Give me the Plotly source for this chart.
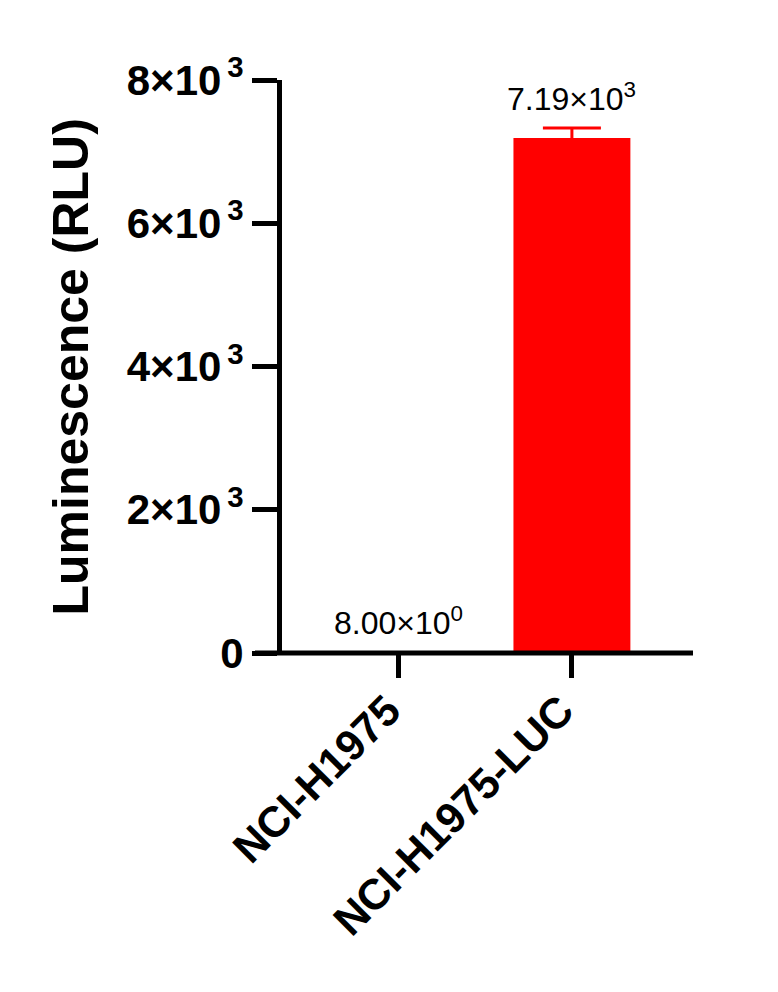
import plotly.graph_objects as go

categories = ["NCI-H1975", "NCI-H1975-LUC"]
values = [8.0, 7190.0]
errors = [0.0, 140.0]
value_labels = ["8.00×10<sup>0</sup>", "7.19×10<sup>3</sup>"]
ytick_vals = [0, 2000, 4000, 6000, 8000]
ytick_text = ["0", "2×10<sup>\u20093</sup>", "4×10<sup>\u20093</sup>", "6×10<sup>\u20093</sup>", "8×10<sup>\u20093</sup>"]

FONT = "Liberation Sans, Arial, sans-serif"

fig = go.Figure()
for i, (v, e) in enumerate(zip(values, errors)):
    fig.add_trace(go.Bar(
        x=[i], y=[v], width=0.676,
        marker=dict(color="#ff0000", line=dict(width=0)),
        error_y=dict(type="data", array=[e], visible=e > 0, color="#ff0000",
                     thickness=3, width=29),
        showlegend=False,
    ))

for i, (v, e, lab) in enumerate(zip(values, errors, value_labels)):
    fig.add_annotation(x=i, y=v + e, text=lab, showarrow=False,
                       yanchor="bottom", yshift=9,
                       font=dict(family=FONT, size=32, color="black"))

fig.add_annotation(xref="paper", yref="paper", x=(70 - 282) / 411, y=0.5,
                   xanchor="center", yanchor="middle",
                   text="<b>Luminescence (RLU)</b>", textangle=-90, showarrow=False,
                   font=dict(family=FONT, size=50, color="black"))

# x-axis baseline (drawn above the bars, extended left under the y ticks)
fig.add_shape(type="line", xref="paper", yref="paper", layer="above",
              x0=-27 / 411, x1=1, y0=0, y1=0,
              line=dict(color="black", width=5))

fig.update_layout(
    width=778, height=992,
    margin=dict(l=274, r=93, t=72, b=347),
    plot_bgcolor="white", paper_bgcolor="white",
    xaxis=dict(range=[-0.676, 1.70], tickvals=[0, 1],
               ticktext=["<b>" + c + "</b>" for c in categories],
               tickangle=-45, ticks="outside", ticklen=24, tickwidth=5,
               tickcolor="black", showline=False,
               showgrid=False, zeroline=False,
               ticklabelstandoff=-10, ticklabelshift=-11,
               tickfont=dict(family=FONT, size=43, color="black")),
    yaxis=dict(range=[0, 8000], tickvals=ytick_vals, ticktext=["<b>" + t + "</b>" for t in ytick_text],
               ticks="outside", ticklen=25, tickwidth=5, tickcolor="black",
               showline=True, linecolor="black", linewidth=5,
               showgrid=False, zeroline=False,
               tickfont=dict(family=FONT, size=42, color="black")),
)

fig.write_html("out.html")
